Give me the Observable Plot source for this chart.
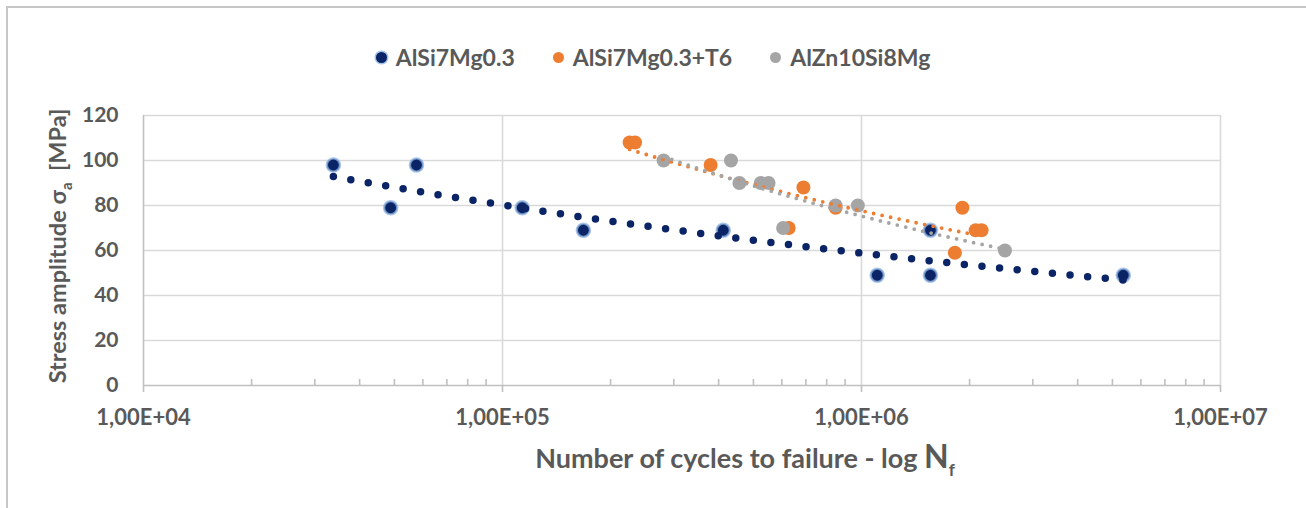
<!DOCTYPE html>
<html><head><meta charset="utf-8">
<script src="https://cdn.jsdelivr.net/npm/d3@7"></script>
<script src="https://cdn.jsdelivr.net/npm/@observablehq/plot@0.6"></script>
<style>
body{margin:0;background:#fff;font-family:Lato,"Open Sans",sans-serif;}
#wrap{position:relative;width:1306px;height:508px;overflow:hidden;background:#fff;}
#frame{position:absolute;left:6px;top:6px;width:1400px;height:600px;border-top:2px solid #c6c6c6;border-left:2px solid #c6c6c6;pointer-events:none;}
#chart{position:absolute;left:0;top:0;}
#legend{position:absolute;top:45px;left:0;width:1306px;display:flex;justify-content:center;align-items:center;font-weight:700;font-size:23px;line-height:24px;color:#595959;}
.item{display:flex;align-items:center;margin:0 19px;}
.sw{width:11px;height:11px;border-radius:50%;margin-right:9px;}
#ytitle{position:absolute;left:57px;top:246px;transform:translate(-50%,-50%) rotate(-90deg);white-space:nowrap;font-weight:700;font-size:23.5px;color:#595959;}
#xtitle{position:absolute;left:745px;top:436px;transform:translateX(-50%);white-space:nowrap;font-weight:700;font-size:27px;color:#595959;}
.sub{font-size:15px;position:relative;top:6px;}
</style></head>
<body>
<div id="wrap">
  <div id="chart"></div>
  <div id="frame"></div>
  <div id="legend"></div>
  <div id="ytitle">Stress amplitude σ<span class="sub">a</span>&nbsp; [MPa]</div>
  <div id="xtitle">Number of cycles to failure - log <span style="font-size:32px">N</span><span class="sub" style="top:8px;font-size:17px">f</span></div>
</div>
<script>
const seriesNames = ["AlSi7Mg0.3", "AlSi7Mg0.3+T6", "AlZn10Si8Mg"];
const seriesColors = ["#0b2466", "#ED7D31", "#A5A5A5"];

const cyclesA = [3.38e4, 4.88e4, 5.76e4, 1.135e5, 1.68e5, 4.12e5, 1.106e6, 1.556e6, 1.556e6, 5.36e6];
const stressA = [98, 79, 98, 79, 69, 69, 49, 49, 69, 49];

const cyclesB = [2.26e5, 2.34e5, 3.80e5, 6.89e5, 6.27e5, 8.47e5, 1.91e6, 2.08e6, 2.16e6, 1.82e6];
const stressB = [108, 108, 98, 88, 70, 79, 79, 69, 69, 59];

const cyclesC = [2.81e5, 4.33e5, 4.57e5, 5.24e5, 5.51e5, 6.05e5, 8.47e5, 9.77e5, 2.51e6];
const stressC = [100, 100, 90, 90, 90, 70, 80, 80, 60];

const xTicks = [1e4, 1e5, 1e6, 1e7];
const xTickLabels = ["1,00E+04", "1,00E+05", "1,00E+06", "1,00E+07"];
const yTicks = [0, 20, 40, 60, 80, 100, 120];
const minorTicks = [4, 5, 6].flatMap(e => [2,3,4,5,6,7,8,9].map(m => m * Math.pow(10, e)));

const toRows = (ns, ss) => ns.map((n, i) => ({n, s: ss[i]}));
const A = toRows(cyclesA, stressA), B = toRows(cyclesB, stressB), C = toRows(cyclesC, stressC);

// Power-law trendline (least squares in log-log), like Excel's power trendline
function powerFit(rows) {
  const xs = rows.map(d => Math.log(d.n)), ys = rows.map(d => Math.log(d.s));
  const mx = d3.mean(xs), my = d3.mean(ys);
  const b = d3.sum(xs, (x, i) => (x - mx) * (ys[i] - my)) / d3.sum(xs, x => (x - mx) ** 2);
  const a = Math.exp(my - b * mx);
  const [lo, hi] = d3.extent(rows, d => d.n);
  return d3.range(0, 201).map(i => { const n = lo * Math.pow(hi / lo, i / 200); return {n, s: a * Math.pow(n, b)}; });
}

const chart = Plot.plot({
  width: 1306, height: 508,
  marginLeft: 143, marginRight: 86, marginTop: 115, marginBottom: 123,
  x: {type: "log", domain: [1e4, 1e7]},
  y: {domain: [0, 120]},
  style: {fontFamily: "Lato, 'Open Sans', sans-serif", background: "transparent", color: "#595959", overflow: "visible"},
  marks: [
    Plot.gridY(yTicks.filter(d => d > 0), {stroke: "#d9d9d9", strokeOpacity: 1, strokeWidth: 1.6}),
    Plot.gridX(xTicks.slice(1), {stroke: "#d9d9d9", strokeOpacity: 1, strokeWidth: 1.6}),
    Plot.ruleX([1e4], {stroke: "#c0c0c0", strokeWidth: 1.6}),
    Plot.ruleX(minorTicks, {y1: 0, y2: 2.7, stroke: "#c0c0c0", strokeWidth: 1.6}),
    Plot.ruleY([0], {stroke: "#c0c0c0", strokeWidth: 1.6}),
    Plot.axisX(xTicks, {tickSize: 7, tickPadding: 17, tickFormat: d => xTickLabels[xTicks.indexOf(d)], fontSize: 22, fontWeight: "bold", fill: "#595959", stroke: "#c0c0c0", strokeWidth: 1.6, label: null}),
    Plot.axisY(yTicks, {tickSize: 0, tickPadding: 25, fontSize: 21, fontWeight: "bold", fill: "#595959", label: null}),
    Plot.dot(A, {x: "n", y: "s", r: 6.6, fill: seriesColors[0], stroke: "#8db3e2", strokeWidth: 2.4, strokeOpacity: 0.75}),
    Plot.dot(B, {x: "n", y: "s", r: 7, fill: seriesColors[1]}),
    Plot.dot(C, {x: "n", y: "s", r: 7, fill: seriesColors[2]}),
    Plot.line(powerFit(A), {x: "n", y: "s", stroke: seriesColors[0], strokeWidth: 7.5, strokeDasharray: "0 17.7", strokeLinecap: "round"}),
    Plot.line(powerFit(B), {x: "n", y: "s", stroke: seriesColors[1], strokeWidth: 3.8, strokeDasharray: "0 8.7", strokeLinecap: "round"}),
    Plot.line(powerFit(C), {x: "n", y: "s", stroke: seriesColors[2], strokeWidth: 3.8, strokeDasharray: "0 8.7", strokeLinecap: "round"})
  ]
});
document.getElementById("chart").appendChild(chart);

const legend = document.getElementById("legend");
seriesNames.forEach((name, i) => {
  const it = document.createElement("div"); it.className = "item";
  const sw = document.createElement("span"); sw.className = "sw"; sw.style.background = seriesColors[i];
  if (i === 0) sw.style.boxShadow = "0 0 0 1.5px rgba(141,179,226,0.8)";
  const tx = document.createElement("span"); tx.textContent = name;
  it.appendChild(sw); it.appendChild(tx); legend.appendChild(it);
});
</script>
</body></html>
